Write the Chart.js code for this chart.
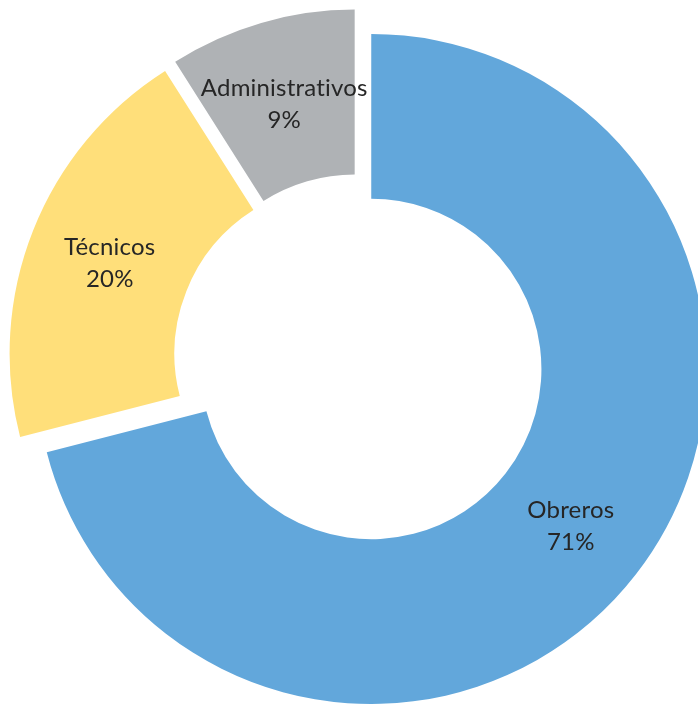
<!DOCTYPE html>
<html lang="es">
<head>
<meta charset="UTF-8" />
<title>Personal por categoría</title>
<script src="https://cdn.jsdelivr.net/npm/chart.js@4.4.1/dist/chart.umd.min.js"></script>
<style>
  html,
  body {
    margin: 0;
    padding: 0;
    background: #fff;
  }
  .chart__box {
    position: relative;
    width: 698px;
    height: 704px;
  }
</style>
</head>
<body>
<div class="chart__box"><canvas id="chart"></canvas></div>
<script>
const labels = ["Obreros", "Técnicos", "Administrativos"];
const values = [71, 20, 9];
const colors = ["#62A7DB", "#FFDF7A", "#AFB2B5"];

// PUSH EVERY SLICE OUT FROM THE CENTER (exploded doughnut)
const explodePlugin = {
  id: "explode",
  afterDatasetUpdate(chart, args, opts) {
    args.meta.data.forEach((arc) => {
      const mid = (arc.startAngle + arc.endAngle) / 2;
      arc.x += Math.cos(mid) * opts.distance;
      arc.y += Math.sin(mid) * opts.distance;
    });
  },
};

// CATEGORY NAME + PERCENT INSIDE EACH SLICE
const sliceLabels = {
  id: "sliceLabels",
  afterDatasetsDraw(chart) {
    const ctx = chart.ctx;
    const meta = chart.getDatasetMeta(0);
    const total = values.reduce((a, b) => a + b, 0);
    ctx.save();
    ctx.font = "24px Lato";
    // small spacing also stops the "ti" ligature
    ctx.letterSpacing = "0.2px";
    ctx.fillStyle = "#262626";
    ctx.textAlign = "center";
    ctx.textBaseline = "alphabetic";
    meta.data.forEach((arc, i) => {
      const pos = arc.tooltipPosition();
      const pct = Math.round((values[i] / total) * 100) + "%";
      ctx.fillText(labels[i], pos.x, pos.y - 6);
      ctx.fillText(pct, pos.x, pos.y + 26);
    });
    ctx.restore();
  },
};

const chart = document.querySelector("#chart").getContext("2d");

new Chart(chart, {
  type: "doughnut",
  data: {
    labels: labels,
    datasets: [
      {
        data: values,
        backgroundColor: colors,
        borderWidth: 0,
      },
    ],
  },
  options: {
    responsive: true,
    maintainAspectRatio: false,
    animation: false,
    radius: 335,
    cutout: "50.8%",
    layout: {
      padding: { left: 20, top: 15, right: 0, bottom: 0 },
    },
    plugins: {
      legend: { display: false },
      tooltip: { enabled: false },
      explode: { distance: 15.5 },
    },
  },
  plugins: [explodePlugin, sliceLabels],
});
</script>
</body>
</html>
